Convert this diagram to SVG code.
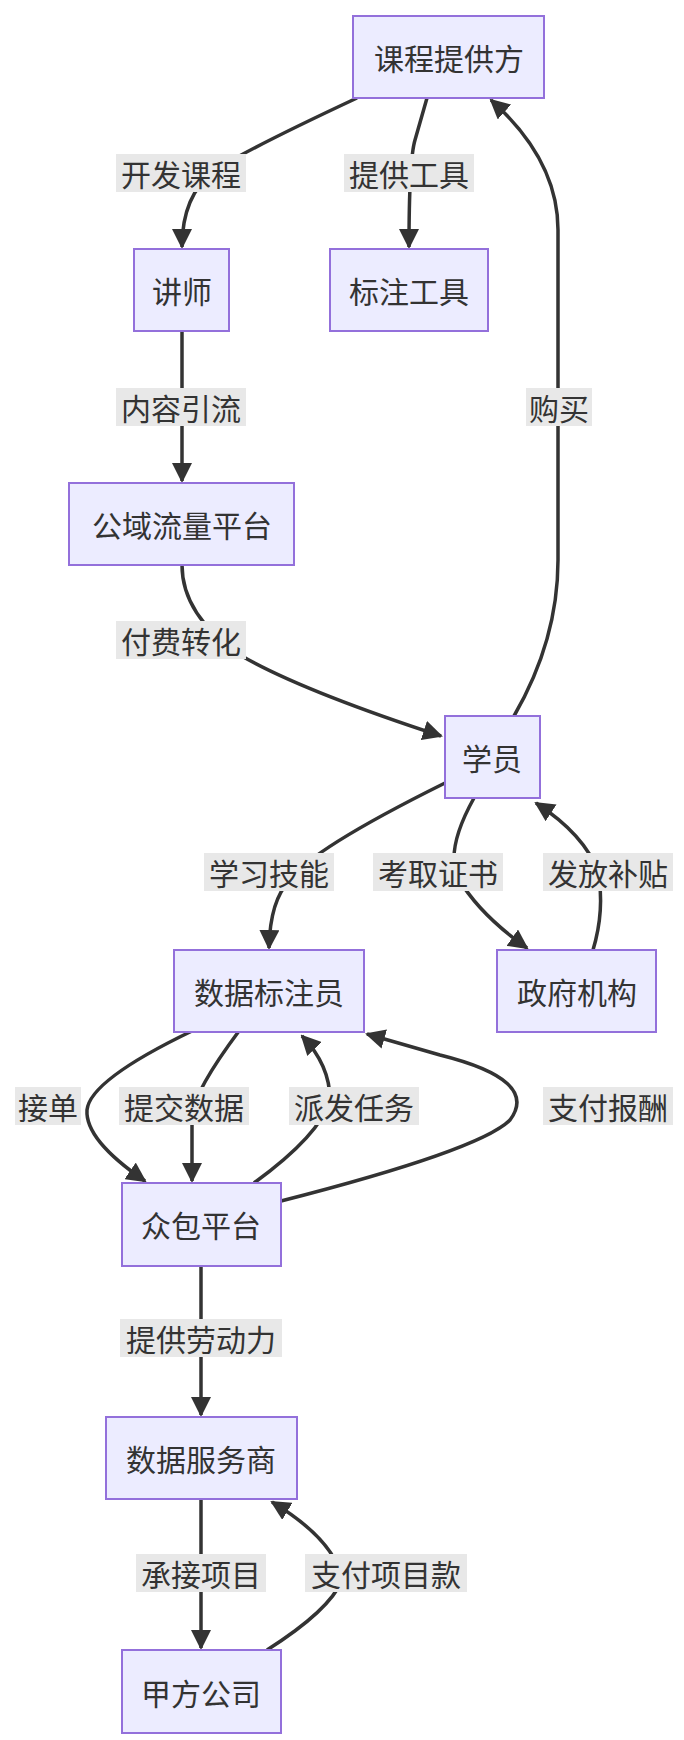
<svg xmlns="http://www.w3.org/2000/svg" width="684" height="1740" viewBox="0 0 684 1740">
<defs>
<marker id="arr" viewBox="0 0 10 10" refX="9" refY="5" markerWidth="20" markerHeight="20" markerUnits="userSpaceOnUse" orient="auto"><path d="M0,0 L10,5 L0,10 z" fill="#333"/></marker>
<style>
.n rect{fill:#ECECFF;stroke:#9370DB;stroke-width:2}
.n text,.l text{font-family:"Noto Sans CJK SC","Noto Sans",sans-serif;font-size:30px;fill:#333;text-anchor:middle;dominant-baseline:central}
.e path{fill:none;stroke:#333;stroke-width:3.5;marker-end:url(#arr)}
.l rect{fill:#e8e8e8}
</style>
</defs>
<rect width="684" height="1740" fill="#fff"/>
<g class="e">
<path d="M357,98 Q250,148 215,170 Q182,195 182,247"/>
<path d="M427,98 L415,140 Q409,160 409,247"/>
<path d="M182,331 L182,481"/>
<path d="M182,565 Q182,615 240,655 Q300,690 441,736"/>
<path d="M514,716 Q558,640 558,560 L558,230 Q558,160 491,100"/>
<path d="M445,783 Q310,850 290,880 Q270,900 269,948"/>
<path d="M474,798 Q445,850 458,878 Q480,915 527,948"/>
<path d="M593,950 Q605,910 598,872 Q585,835 536,803"/>
<path d="M192,1031 Q90,1080 87,1110 Q85,1140 145,1181"/>
<path d="M239,1031 Q195,1090 192,1115 L192,1181"/>
<path d="M254,1183 Q320,1135 330,1100 Q330,1065 302,1036"/>
<path d="M281,1201 Q480,1150 510,1120 Q540,1080 440,1055 L367,1034"/>
<path d="M201,1266 L201,1415"/>
<path d="M201,1499 L201,1648"/>
<path d="M267,1650 Q330,1610 342,1580 Q335,1540 272,1502"/>
</g>
<g class="l">
<rect x="116" y="154" width="130" height="38"/><text x="181" y="173">开发课程</text>
<rect x="344" y="154" width="130" height="38"/><text x="409" y="173">提供工具</text>
<rect x="116" y="388" width="130" height="38"/><text x="181" y="407">内容引流</text>
<rect x="526" y="388" width="66" height="38"/><text x="559" y="407">购买</text>
<rect x="116" y="621" width="130" height="38"/><text x="181" y="640">付费转化</text>
<rect x="204" y="853" width="130" height="38"/><text x="269" y="872">学习技能</text>
<rect x="373" y="853" width="130" height="38"/><text x="438" y="872">考取证书</text>
<rect x="543" y="853" width="130" height="38"/><text x="608" y="872">发放补贴</text>
<rect x="15" y="1087" width="66" height="38"/><text x="48" y="1106">接单</text>
<rect x="119" y="1087" width="130" height="38"/><text x="184" y="1106">提交数据</text>
<rect x="289" y="1087" width="130" height="38"/><text x="354" y="1106">派发任务</text>
<rect x="543" y="1087" width="130" height="38"/><text x="608" y="1106">支付报酬</text>
<rect x="120" y="1319" width="162" height="38"/><text x="201" y="1338">提供劳动力</text>
<rect x="136" y="1554" width="130" height="38"/><text x="201" y="1573">承接项目</text>
<rect x="305" y="1554" width="162" height="38"/><text x="386" y="1573">支付项目款</text>
</g>
<g id="n1" class="n"><rect x="353" y="16" width="191" height="82"/><text x="449" y="57">课程提供方</text></g>
<g id="n2" class="n"><rect x="134" y="249" width="95" height="82"/><text x="182" y="290">讲师</text></g>
<g id="n3" class="n"><rect x="330" y="249" width="158" height="82"/><text x="409" y="290">标注工具</text></g>
<g id="n4" class="n"><rect x="69" y="483" width="225" height="82"/><text x="182" y="524">公域流量平台</text></g>
<g id="n5" class="n"><rect x="445" y="716" width="95" height="82"/><text x="492" y="757">学员</text></g>
<g id="n6" class="n"><rect x="174" y="950" width="190" height="82"/><text x="269" y="991">数据标注员</text></g>
<g id="n7" class="n"><rect x="497" y="950" width="159" height="82"/><text x="577" y="991">政府机构</text></g>
<g id="n8" class="n"><rect x="122" y="1183" width="159" height="83"/><text x="201" y="1224">众包平台</text></g>
<g id="n9" class="n"><rect x="106" y="1417" width="191" height="82"/><text x="201" y="1458">数据服务商</text></g>
<g id="n10" class="n"><rect x="122" y="1650" width="159" height="83"/><text x="201" y="1692">甲方公司</text></g>
</svg>
